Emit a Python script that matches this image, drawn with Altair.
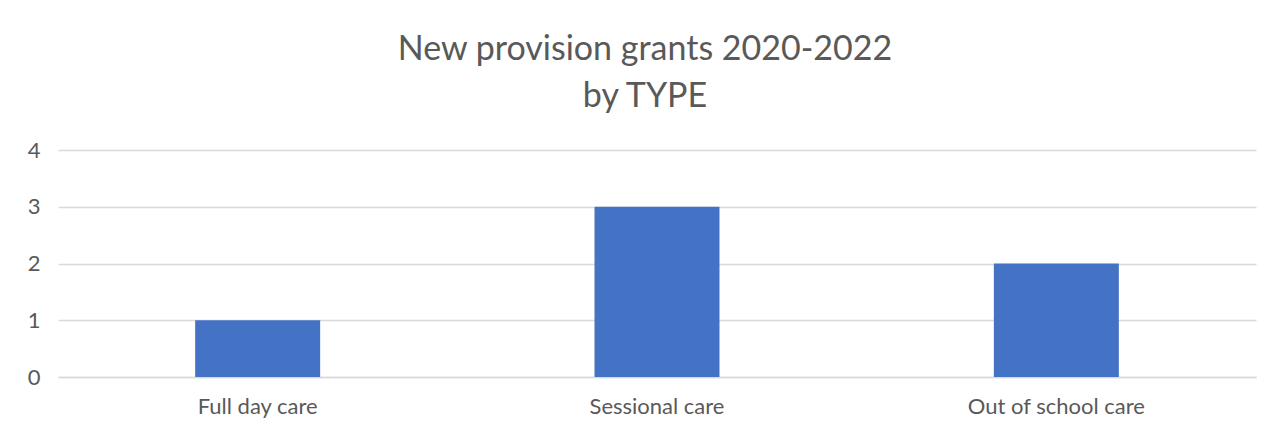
import altair as alt
import pandas as pd

categories = ["Full day care", "Sessional care", "Out of school care"]
values = [1, 3, 2]
y_ticks = [0, 1, 2, 3, 4]
title_lines = ["New provision grants 2020-2022", "by TYPE"]

df = pd.DataFrame({"type": categories, "count": values})

FONT = "Lato"
GREY = "#595959"

chart = alt.Chart(df).mark_bar(color="#4472C4").encode(
    x=alt.X("type:N", sort=categories,
            scale=alt.Scale(paddingInner=0.687, paddingOuter=0.3435),
            axis=alt.Axis(title=None, labelAngle=0, ticks=False, domainColor="#D9D9D9",
                          domainWidth=1.5, labelFont=FONT, labelFontSize=22,
                          labelColor=GREY, labelPadding=19)),
    y=alt.Y("count:Q", scale=alt.Scale(domain=[0, 4], nice=False),
            axis=alt.Axis(title=None, values=y_ticks, format="d", ticks=False, domain=False,
                          gridColor="#D9D9D9", gridWidth=1.5, labelFont=FONT,
                          labelFontSize=22, labelColor=GREY, labelPadding=18)),
).properties(
    width=1198,
    height=227,
    title=alt.TitleParams(text=title_lines, anchor="middle", font=FONT, fontSize=34,
                          fontWeight="normal", color=GREY, lineHeight=47, offset=25, dx=-12),
    autosize=alt.AutoSizeParams(type="none"),
    padding={"left": 50, "top": 142, "right": 20, "bottom": 50},
).configure_view(stroke=None)

chart.save("out.html", embed_options={"renderer": "svg", "actions": False})
